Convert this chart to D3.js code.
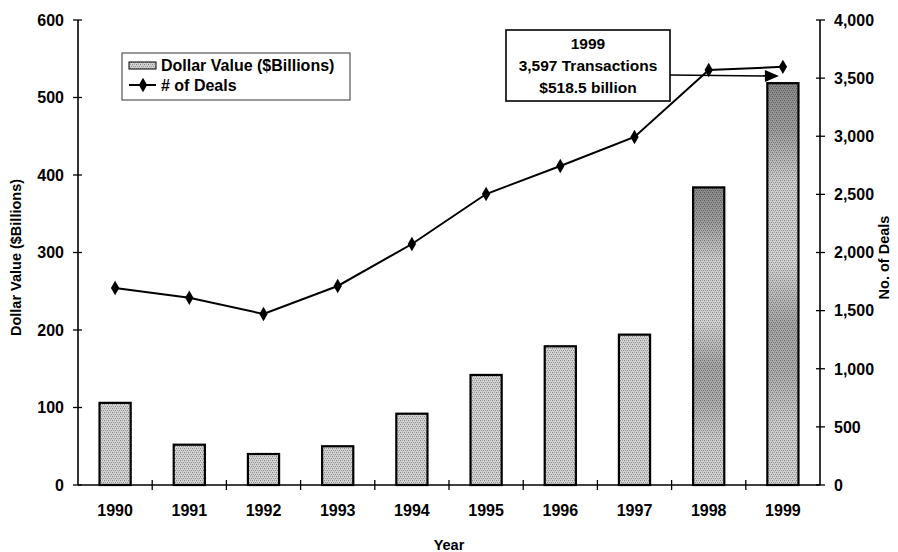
<!DOCTYPE html>
<html>
<head>
<meta charset="utf-8">
<script src="https://cdn.jsdelivr.net/npm/d3@7"></script>
<style>
  html, body { margin: 0; padding: 0; background: #fff; }
  svg { display: block; font-family: "Liberation Sans", Arial, Helvetica, sans-serif; font-weight: bold; }
</style>
</head>
<body>
<svg id="chart" width="898" height="552"></svg>
<script>
// ---- data ----
const years = ["1990","1991","1992","1993","1994","1995","1996","1997","1998","1999"];
const dollarValues = [106, 52, 40, 50, 92, 142, 179, 194, 384, 518.5];
const deals = [1695, 1611, 1471, 1712, 2073, 2503, 2744, 2994, 3570, 3597];
const leftTicks = [0, 100, 200, 300, 400, 500, 600];
const rightTicks = [0, 500, 1000, 1500, 2000, 2500, 3000, 3500, 4000];
const legendLabels = ["Dollar Value ($Billions)", "# of Deals"];
const calloutLines = ["1999", "3,597 Transactions", "$518.5 billion"];
const axisTitles = { left: "Dollar Value ($Billions)", right: "No. of Deals", bottom: "Year" };

// ---- layout ----
const W = 898, H = 552;
const L = 78, R = 820, T = 20, B = 485;
const svg = d3.select("#chart");

const x = d3.scaleBand().domain(years).range([L, R]).paddingInner(0.58).paddingOuter(0.29);
const yL = d3.scaleLinear().domain([0, 600]).range([B, T]);
const yR = d3.scaleLinear().domain([0, 4000]).range([B, T]);
const fmt = d3.format(",");

// ---- defs: stipple pattern ----
const defs = svg.append("defs");
const pat = defs.append("pattern").attr("id", "stip").attr("patternUnits", "userSpaceOnUse")
  .attr("width", 4).attr("height", 4);
pat.append("rect").attr("width", 4).attr("height", 4).attr("fill", "#d4d4d4");
[[0,0,"#8a8a8a"],[2,0,"#a5a5a5"],[1,2,"#959595"],[3,2,"#8f8f8f"],[2,3,"#b8b8b8"],[0,1,"#c0c0c0"]]
  .forEach(([px, py, c]) => pat.append("rect").attr("x", px).attr("y", py).attr("width", 1).attr("height", 1).attr("fill", c));

const grad = defs.append("linearGradient").attr("id", "shade").attr("x1", 0).attr("y1", 0).attr("x2", 0).attr("y2", 1);
[[0, 0.35], [0.12, 0.25], [0.25, 0.02], [0.45, 0.0], [0.6, 0.22], [0.72, 0.18], [0.85, 0.03], [1, 0.0]]
  .forEach(([o, a]) => grad.append("stop").attr("offset", o).attr("stop-color", "#000").attr("stop-opacity", a));

// ---- bars ----
const bars = svg.append("g");
bars.selectAll("rect.bar").data(years).join("rect")
  .attr("class", "bar")
  .attr("x", d => x(d))
  .attr("y", (d, i) => yL(dollarValues[i]))
  .attr("width", x.bandwidth())
  .attr("height", (d, i) => B - yL(dollarValues[i]))
  .attr("fill", "url(#stip)");
bars.selectAll("rect.shade").data(years.filter((d, i) => dollarValues[i] > 300)).join("rect")
  .attr("class", "shade")
  .attr("x", d => x(d))
  .attr("y", d => yL(dollarValues[years.indexOf(d)]))
  .attr("width", x.bandwidth())
  .attr("height", d => B - yL(dollarValues[years.indexOf(d)]))
  .attr("fill", "url(#shade)");
bars.selectAll("rect.outline").data(years).join("rect")
  .attr("class", "outline")
  .attr("x", d => x(d))
  .attr("y", (d, i) => yL(dollarValues[i]))
  .attr("width", x.bandwidth())
  .attr("height", (d, i) => B - yL(dollarValues[i]))
  .attr("fill", "none").attr("stroke", "#000").attr("stroke-width", 2.2);

// ---- axes ----
const ax = svg.append("g").attr("stroke", "#000");
ax.append("line").attr("x1", L).attr("x2", L).attr("y1", T).attr("y2", B).attr("stroke-width", 1.6);
ax.append("line").attr("x1", R).attr("x2", R).attr("y1", T).attr("y2", B).attr("stroke-width", 1.6);
ax.append("line").attr("x1", L).attr("x2", R).attr("y1", B).attr("y2", B).attr("stroke-width", 1.6);

// left ticks
ax.selectAll("line.lt").data(leftTicks).join("line").attr("class", "lt")
  .attr("x1", L - 5).attr("x2", L + 4).attr("y1", d => yL(d)).attr("y2", d => yL(d)).attr("stroke-width", 1.3);
svg.append("g").selectAll("text").data(leftTicks).join("text")
  .attr("x", L - 14).attr("y", d => yL(d)).attr("dy", "0.36em")
  .attr("text-anchor", "end").attr("font-size", 16).text(d => d);

// right ticks
ax.selectAll("line.rt").data(rightTicks).join("line").attr("class", "rt")
  .attr("x1", R - 4).attr("x2", R + 5).attr("y1", d => yR(d)).attr("y2", d => yR(d)).attr("stroke-width", 1.3);
svg.append("g").selectAll("text").data(rightTicks).join("text")
  .attr("x", R + 14).attr("y", d => yR(d)).attr("dy", "0.36em")
  .attr("text-anchor", "start").attr("font-size", 16).text(d => fmt(d));

// x ticks at band boundaries
const step = x.step();
const bounds = years.slice(1).map(d => x(d) - x.paddingInner() * step / 2);
ax.selectAll("line.xt").data(bounds).join("line").attr("class", "xt")
  .attr("x1", d => d).attr("x2", d => d).attr("y1", B - 5).attr("y2", B + 5).attr("stroke-width", 1.3);
svg.append("g").selectAll("text").data(years).join("text")
  .attr("x", d => x(d) + x.bandwidth() / 2).attr("y", 516)
  .attr("text-anchor", "middle").attr("font-size", 16).text(d => d);

// axis titles
svg.append("text").attr("transform", `translate(${21},${(T + B) / 2 + 5}) rotate(-90)`)
  .attr("text-anchor", "middle").attr("font-size", 14.5).text(axisTitles.left);
svg.append("text").attr("transform", `translate(${889},${(T + B) / 2 + 5}) rotate(-90)`)
  .attr("text-anchor", "middle").attr("font-size", 14.5).text(axisTitles.right);
svg.append("text").attr("x", (L + R) / 2).attr("y", 550)
  .attr("text-anchor", "middle").attr("font-size", 14.5).text(axisTitles.bottom);

// ---- line ----
const cx = d => x(d) + x.bandwidth() / 2;
const line = d3.line().x((d, i) => cx(years[i])).y(d => yR(d));
svg.append("path").datum(deals).attr("d", line).attr("fill", "none").attr("stroke", "#000").attr("stroke-width", 2);
const diamond = d3.symbol().type(d3.symbolDiamond).size(60);
svg.append("g").selectAll("path").data(deals).join("path")
  .attr("d", diamond).attr("transform", (d, i) => `translate(${cx(years[i])},${yR(d)})`).attr("fill", "#000");

// ---- legend ----
const lg = svg.append("g");
lg.append("rect").attr("x", 122).attr("y", 53).attr("width", 228).attr("height", 47)
  .attr("fill", "#fff").attr("stroke", "#555").attr("stroke-width", 1.2);
lg.append("rect").attr("x", 129).attr("y", 62).attr("width", 27).attr("height", 7)
  .attr("fill", "url(#stip)").attr("stroke", "#000").attr("stroke-width", 1);
lg.append("text").attr("x", 161).attr("y", 71).attr("font-size", 16).text(legendLabels[0]);
lg.append("line").attr("x1", 129).attr("x2", 156).attr("y1", 85).attr("y2", 85).attr("stroke", "#000").attr("stroke-width", 2);
lg.append("path").attr("d", diamond).attr("transform", "translate(143,85)").attr("fill", "#000");
lg.append("text").attr("x", 161).attr("y", 91).attr("font-size", 16).text(legendLabels[1]);

// ---- callout ----
const bx0 = 506, bx1 = 670, by0 = 30, by1 = 101;
const arrowY = 75;
svg.append("line").attr("x1", bx1).attr("x2", cx("1999") - 12).attr("y1", arrowY).attr("y2", arrowY + 1)
  .attr("stroke", "#000").attr("stroke-width", 1.6);
svg.append("path")
  .attr("d", `M${cx("1999") - 4},${arrowY + 1} L${cx("1999") - 18},${arrowY - 5} L${cx("1999") - 18},${arrowY + 7} Z`)
  .attr("fill", "#000");
svg.append("rect").attr("x", bx0).attr("y", by0).attr("width", bx1 - bx0).attr("height", by1 - by0)
  .attr("fill", "#fff").attr("stroke", "#000").attr("stroke-width", 1.6);
svg.append("g").selectAll("text").data(calloutLines).join("text")
  .attr("x", (bx0 + bx1) / 2).attr("y", (d, i) => 49 + i * 22)
  .attr("text-anchor", "middle").attr("font-size", 15.5).text(d => d);
</script>
</body>
</html>
